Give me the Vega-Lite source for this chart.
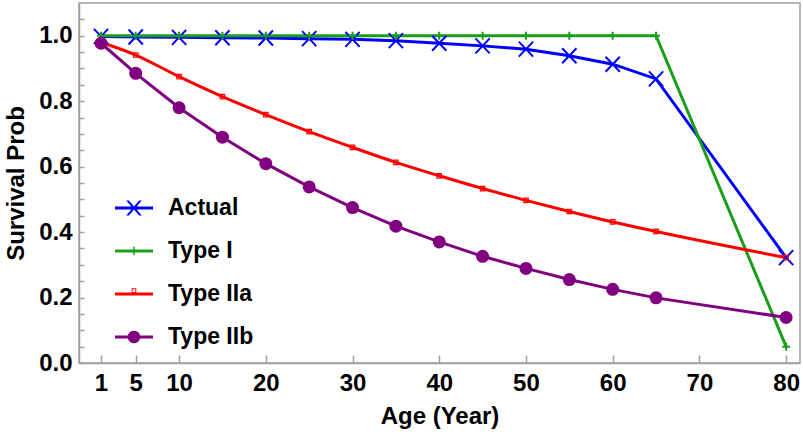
{
  "$schema": "https://vega.github.io/schema/vega-lite/v6.json",
  "width": 721,
  "height": 360,
  "autosize": "none",
  "padding": {"left": 79, "top": 3, "right": 3, "bottom": 76},
  "background": "white",
  "config": {"view": {"stroke": "#a0a0a0", "strokeWidth": 1.5}, "font": "Liberation Sans"},
  "data": {"values": [
    {"series": "Actual", "age": 1, "prob": 0.998},
    {"series": "Actual", "age": 5, "prob": 0.996},
    {"series": "Actual", "age": 10, "prob": 0.995},
    {"series": "Actual", "age": 15, "prob": 0.994},
    {"series": "Actual", "age": 20, "prob": 0.993},
    {"series": "Actual", "age": 25, "prob": 0.991},
    {"series": "Actual", "age": 30, "prob": 0.989},
    {"series": "Actual", "age": 35, "prob": 0.985},
    {"series": "Actual", "age": 40, "prob": 0.977},
    {"series": "Actual", "age": 45, "prob": 0.969},
    {"series": "Actual", "age": 50, "prob": 0.959},
    {"series": "Actual", "age": 55, "prob": 0.939},
    {"series": "Actual", "age": 60, "prob": 0.913},
    {"series": "Actual", "age": 65, "prob": 0.868},
    {"series": "Actual", "age": 80, "prob": 0.322},
    {"series": "Type I", "age": 1, "prob": 1.0},
    {"series": "Type I", "age": 5, "prob": 1.0},
    {"series": "Type I", "age": 10, "prob": 1.0},
    {"series": "Type I", "age": 15, "prob": 1.0},
    {"series": "Type I", "age": 20, "prob": 1.0},
    {"series": "Type I", "age": 25, "prob": 1.0},
    {"series": "Type I", "age": 30, "prob": 1.0},
    {"series": "Type I", "age": 35, "prob": 1.0},
    {"series": "Type I", "age": 40, "prob": 1.0},
    {"series": "Type I", "age": 45, "prob": 1.0},
    {"series": "Type I", "age": 50, "prob": 1.0},
    {"series": "Type I", "age": 55, "prob": 1.0},
    {"series": "Type I", "age": 60, "prob": 1.0},
    {"series": "Type I", "age": 65, "prob": 1.0},
    {"series": "Type I", "age": 80, "prob": 0.05},
    {"series": "Type IIa", "age": 1, "prob": 0.98},
    {"series": "Type IIa", "age": 5, "prob": 0.941},
    {"series": "Type IIa", "age": 10, "prob": 0.875},
    {"series": "Type IIa", "age": 15, "prob": 0.814},
    {"series": "Type IIa", "age": 20, "prob": 0.759},
    {"series": "Type IIa", "age": 25, "prob": 0.707},
    {"series": "Type IIa", "age": 30, "prob": 0.659},
    {"series": "Type IIa", "age": 35, "prob": 0.613},
    {"series": "Type IIa", "age": 40, "prob": 0.572},
    {"series": "Type IIa", "age": 45, "prob": 0.533},
    {"series": "Type IIa", "age": 50, "prob": 0.497},
    {"series": "Type IIa", "age": 55, "prob": 0.463},
    {"series": "Type IIa", "age": 60, "prob": 0.431},
    {"series": "Type IIa", "age": 65, "prob": 0.402},
    {"series": "Type IIa", "age": 80, "prob": 0.322},
    {"series": "Type IIb", "age": 1, "prob": 0.977},
    {"series": "Type IIb", "age": 5, "prob": 0.885},
    {"series": "Type IIb", "age": 10, "prob": 0.78},
    {"series": "Type IIb", "age": 15, "prob": 0.69},
    {"series": "Type IIb", "age": 20, "prob": 0.609},
    {"series": "Type IIb", "age": 25, "prob": 0.538},
    {"series": "Type IIb", "age": 30, "prob": 0.475},
    {"series": "Type IIb", "age": 35, "prob": 0.418},
    {"series": "Type IIb", "age": 40, "prob": 0.37},
    {"series": "Type IIb", "age": 45, "prob": 0.326},
    {"series": "Type IIb", "age": 50, "prob": 0.289},
    {"series": "Type IIb", "age": 55, "prob": 0.255},
    {"series": "Type IIb", "age": 60, "prob": 0.225},
    {"series": "Type IIb", "age": 65, "prob": 0.199},
    {"series": "Type IIb", "age": 80, "prob": 0.139}
  ]},
  "encoding": {
    "x": {
      "field": "age", "type": "quantitative",
      "scale": {"domain": [-1.54, 81.6], "nice": false, "zero": false},
      "axis": {
        "values": [1, 5, 10, 20, 30, 40, 50, 60, 70, 80],
        "title": "Age (Year)", "grid": false,
        "domainColor": "#a0a0a0", "domainWidth": 1.5,
        "tickColor": "#a0a0a0", "tickWidth": 1.5, "tickSize": -8,
        "labelFont": "Liberation Sans", "labelFontSize": 24, "labelFontWeight": "bold", "labelColor": "black",
        "labelPadding": 16, "labelFlush": false, "labelOverlap": false,
        "titleFont": "Liberation Sans", "titleFontSize": 24, "titleFontWeight": "bold", "titleColor": "black",
        "titlePadding": 9
      }
    },
    "y": {
      "field": "prob", "type": "quantitative",
      "scale": {"domain": [0, 1.1], "nice": false, "zero": false},
      "axis": {
        "values": [0, 0.05, 0.1, 0.15, 0.2, 0.25, 0.3, 0.35, 0.4, 0.45, 0.5, 0.55, 0.6, 0.65, 0.7, 0.75, 0.8, 0.85, 0.9, 0.95, 1.0, 1.05],
        "labelExpr": "round(datum.value*20) % 4 == 0 ? format(datum.value, '.1f') : ''",
        "title": "Survival Prob", "grid": false,
        "domainColor": "#a0a0a0", "domainWidth": 1.5,
        "tickColor": "#a0a0a0", "tickWidth": 1.5, "tickSize": -5,
        "labelFont": "Liberation Sans", "labelFontSize": 24, "labelFontWeight": "bold", "labelColor": "black",
        "labelPadding": 12, "labelOverlap": false,
        "titleFont": "Liberation Sans", "titleFontSize": 24, "titleFontWeight": "bold", "titleColor": "black",
        "titlePadding": 10
      }
    },
    "color": {
      "field": "series", "type": "nominal",
      "scale": {"domain": ["Actual", "Type I", "Type IIa", "Type IIb"], "range": ["#0000ff", "#1a9e1a", "#ff0000", "#800080"]},
      "legend": {
        "title": null, "orient": "none", "legendX": 36, "legendY": 186, "padding": 0,
        "symbolSize": 1444, "symbolStrokeWidth": 0,
        "labelFont": "Liberation Sans", "labelFontSize": 23, "labelFontWeight": "bold", "labelColor": "black",
        "labelOffset": 15, "rowPadding": 12, "labelLimit": 0,
        "encode": {
          "symbols": {
            "update": {
              "shape": {"signal": "datum.value === 'Actual' ? 'M-1,-0.08H1V0.08H-1Z M-0.41,-0.4H-0.27L0.41,0.4H0.27Z M0.27,-0.4H0.41L-0.27,0.4H-0.41Z' : datum.value === 'Type I' ? 'M-1,-0.08H1V0.08H-1Z M-0.04,-0.22H0.04V0.22H-0.04Z' : datum.value === 'Type IIa' ? 'M-1,-0.08H1V0.08H-1Z M-0.12,-0.3H0.12V-0.06H-0.12Z M-0.07,-0.25V-0.11H0.07V-0.25Z' : 'M-1,-0.08H1V0.08H-1Z M-0.33,0A0.33,0.33 0 1,1 0.33,0A0.33,0.33 0 1,1 -0.33,0Z'"},
              "fill": {"scale": "color", "field": "value"},
              "stroke": {"value": "transparent"},
              "strokeWidth": {"value": 0},
              "opacity": {"value": 1},
              "fillOpacity": {"value": 1}
            }
          }
        }
      }
    }
  },
  "layer": [
    {
      "transform": [{"filter": "datum.series !== 'Type IIa'"}],
      "mark": {"type": "line", "strokeWidth": 3}
    },
    {
      "transform": [{"filter": "datum.series === 'Type IIa'"}],
      "mark": {"type": "line", "strokeWidth": 3, "interpolate": "monotone"}
    },
    {
      "transform": [{"filter": "datum.series === 'Actual'"}],
      "mark": {"type": "point", "shape": "M-0.95,-1L0.95,1M-0.95,1L0.95,-1", "filled": false, "size": 225, "strokeWidth": 2, "opacity": 1}
    },
    {
      "transform": [{"filter": "datum.series === 'Type I'"}],
      "mark": {"type": "point", "shape": "M-1,0H1M0,-1V1", "filled": false, "size": 64, "strokeWidth": 2, "opacity": 1}
    },
    {
      "transform": [{"filter": "datum.series === 'Type IIa'"}],
      "mark": {"type": "point", "shape": "square", "filled": false, "size": 20, "strokeWidth": 1.2, "opacity": 1}
    },
    {
      "transform": [{"filter": "datum.series === 'Type IIb'"}],
      "mark": {"type": "point", "shape": "circle", "filled": true, "size": 169, "opacity": 1}
    }
  ]
}
